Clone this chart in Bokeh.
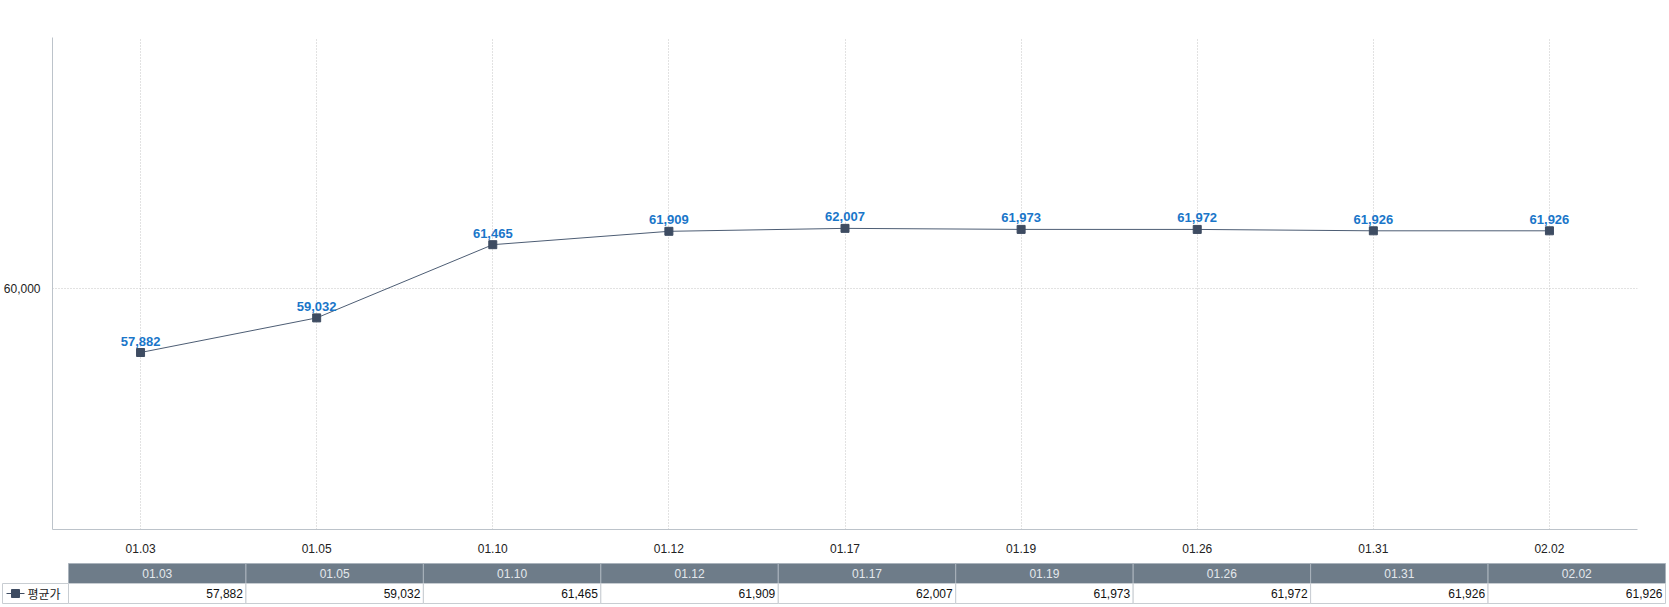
from bokeh.plotting import figure
from bokeh.models import ColumnDataSource, FixedTicker, Range1d, NumeralTickFormatter
from bokeh.core.properties import value
from bokeh.embed import file_html
from bokeh.resources import INLINE

dates = ["01.03", "01.05", "01.10", "01.12", "01.17", "01.19", "01.26", "01.31", "02.02"]
avg_price = [57882, 59032, 61465, 61909, 62007, 61973, 61972, 61926, 61926]
series_name = "평균가"
y_ticks = [60000]

FONT = "Liberation Sans"
labels = [f"{v:,}" for v in avg_price]
src = ColumnDataSource(dict(x=dates, y=avg_price, lab=labels))

p = figure(x_range=dates, y_range=Range1d(52000, 68350), width=1669, height=555,
           output_backend="svg", toolbar_location=None,
           min_border_left=52, min_border_right=32, min_border_top=37, min_border_bottom=24)
p.outline_line_color = None
p.background_fill_color = "white"

p.line("x", "y", source=src, line_color="#4d5d74", line_width=1)
p.scatter("x", "y", source=src, marker="square", size=8, fill_color="#3e4c62", line_color="#3e4c62")
p.text("x", "y", text="lab", source=src, text_font=value(FONT), text_font_size="13px",
       text_font_style="bold", text_color="#1a76c9", text_align="center",
       text_baseline="bottom", y_offset=-7)

p.yaxis.ticker = FixedTicker(ticks=y_ticks)
p.yaxis.formatter = NumeralTickFormatter(format="0,0")
for ax in (p.xaxis[0], p.yaxis[0]):
    ax.axis_line_color = "#bcc3ca"
    ax.major_tick_line_color = None
    ax.minor_tick_line_color = None
    ax.major_label_text_font = FONT
    ax.major_label_text_font_size = "12px"
    ax.major_label_text_color = "#222222"
p.xaxis.major_label_standoff = 8
p.yaxis.major_label_standoff = 6

for g in (p.xgrid[0], p.ygrid[0]):
    g.grid_line_color = "#c4c4c4"
    g.grid_line_dash = "1 2"
    g.grid_line_width = 1

# data table below the chart (page pixel coordinates)
t = figure(x_range=Range1d(0, 1669), y_range=Range1d(607 - 555, 0), width=1669, height=52,
           output_backend="svg", toolbar_location=None, x_axis_type=None, y_axis_type=None,
           min_border=0, min_border_left=0, min_border_right=0, min_border_top=0, min_border_bottom=0)
t.outline_line_color = None
t.xgrid.visible = False
t.ygrid.visible = False

left, right = 68, 1665
n = len(dates)
cw = (right - left) / n
xs = [left + cw * (i + 0.5) for i in range(n)]
h_top, h_bot, v_bot = 563 - 555, 583 - 555, 603 - 555

t.rect(x=xs, y=[(h_top + h_bot) / 2] * n, width=cw, height=h_bot - h_top,
       fill_color="#6e7c89", line_color="#aab3bc", line_width=1)
t.rect(x=xs, y=[(h_bot + v_bot) / 2] * n, width=cw, height=v_bot - h_bot,
       fill_color="white", line_color="#c8cdd2", line_width=1)
t.rect(x=[(2 + left) / 2], y=[(h_bot + v_bot) / 2], width=left - 2, height=v_bot - h_bot,
       fill_color="white", line_color="#c8cdd2", line_width=1)

t.text(x=xs, y=[(h_top + h_bot) / 2] * n, text=dates, text_font=value(FONT),
       text_font_size="12px", text_color="#e4e8ec", text_align="center", text_baseline="middle")
t.text(x=[left + cw * (i + 1) - 3 for i in range(n)], y=[(h_bot + v_bot) / 2] * n, text=labels,
       text_font=value(FONT), text_font_size="12px", text_color="#111111",
       text_align="right", text_baseline="middle")
ly = (h_bot + v_bot) / 2
t.line(x=[6, 24], y=[ly, ly], line_color="#3e4c62", line_width=1)
t.scatter(x=[15], y=[ly], marker="square", size=8, fill_color="#3e4c62", line_color="#3e4c62")
t.text(x=[27], y=[ly], text=[series_name], text_font=value("Noto Sans CJK KR"),
       text_font_size="12px", text_color="#222222", text_align="left", text_baseline="middle")

html = file_html([p, t], INLINE)
html = html.replace("<body>", '<body style="margin:0;padding:0;line-height:0;">', 1)
open("out.html", "w").write(html)
